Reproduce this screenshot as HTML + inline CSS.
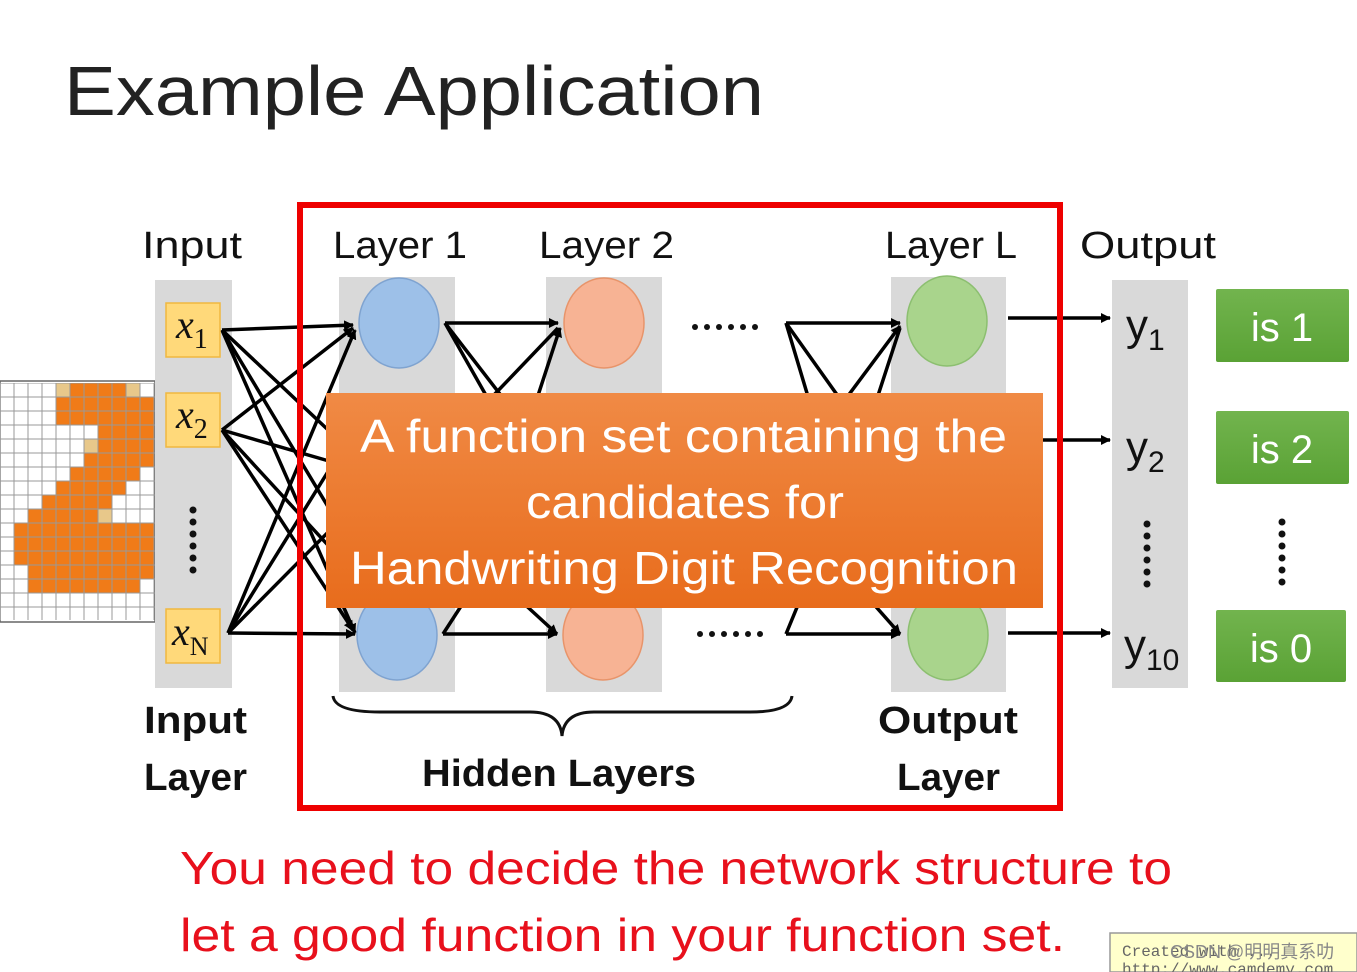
<!DOCTYPE html>
<html><head><meta charset="utf-8"><style>
html,body{margin:0;padding:0;background:#fff;}
svg{display:block;font-family:"Liberation Sans","DejaVu Sans",sans-serif;}
</style></head><body>
<svg width="1357" height="972" viewBox="0 0 1357 972" xmlns="http://www.w3.org/2000/svg">
<defs>
<pattern id="grid" x="0" y="383" width="14" height="14" patternUnits="userSpaceOnUse">
<rect width="14" height="14" fill="none" stroke="#999" stroke-width="1"/>
</pattern>
<linearGradient id="og" x1="0" y1="0" x2="0" y2="1">
<stop offset="0" stop-color="#f08a45"/><stop offset="1" stop-color="#e86c1c"/>
</linearGradient>
<linearGradient id="gg" x1="0" y1="0" x2="0" y2="1">
<stop offset="0" stop-color="#72b44e"/><stop offset="1" stop-color="#5aa235"/>
</linearGradient>
<marker id="ah" markerWidth="10" markerHeight="10" refX="9" refY="5" orient="auto" markerUnits="userSpaceOnUse">
<path d="M0,0 L10,5 L0,10 z" fill="#000"/>
</marker>
</defs>

<text x="64" y="115" font-size="70" fill="#222" textLength="700" lengthAdjust="spacingAndGlyphs">Example Application</text>

<!-- pixel grid -->
<rect x="0" y="381" width="155" height="241" fill="#fff" stroke="#666" stroke-width="1.5"/>
<g fill="#f07b18">
<rect x="56" y="383" width="84" height="14"/>
<rect x="56" y="397" width="98" height="28"/>
<rect x="98" y="425" width="56" height="14"/>
<rect x="98" y="439" width="56" height="14"/>
<rect x="84" y="453" width="70" height="14"/>
<rect x="70" y="467" width="70" height="14"/>
<rect x="56" y="481" width="70" height="14"/>
<rect x="42" y="495" width="70" height="14"/>
<rect x="28" y="509" width="70" height="14"/>
<rect x="14" y="523" width="140" height="42"/>
<rect x="28" y="565" width="126" height="14"/>
<rect x="28" y="579" width="112" height="14"/>
</g>
<g fill="#e8c88a">
<rect x="56" y="383" width="14" height="14"/>
<rect x="126" y="383" width="14" height="14"/>
<rect x="84" y="439" width="14" height="14"/>
<rect x="98" y="509" width="14" height="14"/>
</g>
<rect x="0" y="383" width="155" height="237" fill="url(#grid)"/>

<!-- gray columns -->
<g fill="#d9d9d9">
<rect x="155" y="280" width="77" height="408"/>
<rect x="339" y="277" width="116" height="415"/>
<rect x="546" y="277" width="116" height="415"/>
<rect x="891" y="277" width="115" height="415"/>
<rect x="1112" y="280" width="76" height="408"/>
</g>

<!-- connections -->
<g stroke="#000" stroke-width="3.5" fill="none">
<line x1="222" y1="330" x2="353" y2="325" marker-end="url(#ah)"/>
<line x1="222" y1="330" x2="355" y2="633" marker-end="url(#ah)"/>
<line x1="222" y1="330" x2="360" y2="460"/>
<line x1="222" y1="330" x2="360" y2="560"/>
<line x1="222" y1="430" x2="353" y2="328" marker-end="url(#ah)"/>
<line x1="222" y1="430" x2="353" y2="630" marker-end="url(#ah)"/>
<line x1="222" y1="430" x2="360" y2="470"/>
<line x1="222" y1="430" x2="360" y2="580"/>
<line x1="228" y1="633" x2="355" y2="634" marker-end="url(#ah)"/>
<line x1="228" y1="633" x2="355" y2="330" marker-end="url(#ah)"/>
<line x1="228" y1="633" x2="360" y2="420"/>
<line x1="228" y1="633" x2="360" y2="500"/>
<line x1="445" y1="323" x2="558" y2="323" marker-end="url(#ah)"/>
<line x1="445" y1="323" x2="520" y2="420"/>
<line x1="445" y1="323" x2="500" y2="420"/>
<line x1="530" y1="420" x2="560" y2="328" marker-end="url(#ah)"/>
<line x1="470" y1="420" x2="558" y2="328"/>
<line x1="443" y1="634" x2="557" y2="634" marker-end="url(#ah)"/>
<line x1="443" y1="634" x2="465" y2="600"/>
<line x1="520" y1="600" x2="557" y2="634" marker-end="url(#ah)"/>
<line x1="786" y1="323" x2="900" y2="323" marker-end="url(#ah)"/>
<line x1="786" y1="323" x2="815" y2="420"/>
<line x1="786" y1="323" x2="855" y2="420"/>
<line x1="830" y1="420" x2="900" y2="326" marker-end="url(#ah)"/>
<line x1="870" y1="420" x2="900" y2="328"/>
<line x1="786" y1="634" x2="900" y2="634" marker-end="url(#ah)"/>
<line x1="786" y1="634" x2="800" y2="600"/>
<line x1="870" y1="600" x2="900" y2="634" marker-end="url(#ah)"/>
<line x1="1008" y1="318" x2="1110" y2="318" marker-end="url(#ah)"/>
<line x1="1040" y1="440" x2="1110" y2="440" marker-end="url(#ah)"/>
<line x1="1008" y1="633" x2="1110" y2="633" marker-end="url(#ah)"/>
</g>

<!-- x boxes -->
<g fill="#ffd97a" stroke="#f0b840" stroke-width="1.5">
<rect x="166" y="303" width="54" height="54"/>
<rect x="166" y="393" width="54" height="54"/>
<rect x="166" y="609" width="54" height="54"/>
</g>
<g style="font-family:'Liberation Serif',serif" font-style="italic" font-size="40" fill="#111">
<text x="176" y="338">x<tspan font-style="normal" font-size="28" dy="10">1</tspan></text>
<text x="176" y="428">x<tspan font-style="normal" font-size="28" dy="10">2</tspan></text>
<text x="172" y="645">x<tspan font-style="normal" font-size="26" dy="10">N</tspan></text>
</g>
<g fill="#111">
<circle cx="193" cy="510" r="3.5"/><circle cx="193" cy="522" r="3.5"/><circle cx="193" cy="534" r="3.5"/><circle cx="193" cy="546" r="3.5"/><circle cx="193" cy="558" r="3.5"/><circle cx="193" cy="570" r="3.5"/>
</g>

<!-- nodes -->
<ellipse cx="399" cy="323" rx="40" ry="45" fill="#9dc0e8" stroke="#7fa3d0" stroke-width="1.5"/>
<ellipse cx="397" cy="635" rx="40" ry="45" fill="#9dc0e8" stroke="#7fa3d0" stroke-width="1.5"/>
<ellipse cx="604" cy="323" rx="40" ry="45" fill="#f7b394" stroke="#e8946a" stroke-width="1.5"/>
<ellipse cx="603" cy="635" rx="40" ry="45" fill="#f7b394" stroke="#e8946a" stroke-width="1.5"/>
<ellipse cx="947" cy="321" rx="40" ry="45" fill="#a9d48c" stroke="#8cbf70" stroke-width="1.5"/>
<ellipse cx="948" cy="635" rx="40" ry="45" fill="#a9d48c" stroke="#8cbf70" stroke-width="1.5"/>
<g fill="#111">
<circle cx="695" cy="327" r="3"/><circle cx="707" cy="327" r="3"/><circle cx="719" cy="327" r="3"/><circle cx="731" cy="327" r="3"/><circle cx="743" cy="327" r="3"/><circle cx="755" cy="327" r="3"/>
<circle cx="700" cy="634" r="3"/><circle cx="712" cy="634" r="3"/><circle cx="724" cy="634" r="3"/><circle cx="736" cy="634" r="3"/><circle cx="748" cy="634" r="3"/><circle cx="760" cy="634" r="3"/>
</g>

<!-- y labels -->
<g font-size="44" fill="#111">
<text x="1126" y="340">y<tspan font-size="30" dy="10">1</tspan></text>
<text x="1126" y="462">y<tspan font-size="30" dy="10">2</tspan></text>
<text x="1124" y="660">y<tspan font-size="30" dy="10">10</tspan></text>
</g>
<g fill="#111">
<circle cx="1147" cy="524" r="3.5"/><circle cx="1147" cy="536" r="3.5"/><circle cx="1147" cy="548" r="3.5"/><circle cx="1147" cy="560" r="3.5"/><circle cx="1147" cy="572" r="3.5"/><circle cx="1147" cy="584" r="3.5"/>
<circle cx="1282" cy="522" r="3.5"/><circle cx="1282" cy="534" r="3.5"/><circle cx="1282" cy="546" r="3.5"/><circle cx="1282" cy="558" r="3.5"/><circle cx="1282" cy="570" r="3.5"/><circle cx="1282" cy="582" r="3.5"/>
</g>
<g fill="url(#gg)">
<rect x="1216" y="289" width="133" height="73" rx="2"/>
<rect x="1216" y="411" width="133" height="73" rx="2"/>
<rect x="1216" y="610" width="130" height="72" rx="2"/>
</g>
<g font-size="40" fill="#fff" text-anchor="middle">
<text x="1282" y="341">is 1</text>
<text x="1282" y="463">is 2</text>
<text x="1281" y="662">is 0</text>
</g>

<!-- orange box -->
<rect x="326" y="393" width="717" height="215" fill="url(#og)"/>
<g font-size="46" fill="#fff">
<text x="360" y="452" textLength="647" lengthAdjust="spacingAndGlyphs">A function set containing the</text>
<text x="526" y="518" textLength="318" lengthAdjust="spacingAndGlyphs">candidates for</text>
<text x="350" y="584" textLength="668" lengthAdjust="spacingAndGlyphs">Handwriting Digit Recognition</text>
</g>

<!-- red frame -->
<rect x="300" y="205" width="760" height="603" fill="none" stroke="#ee0000" stroke-width="6"/>

<!-- top labels -->
<g font-size="38" fill="#111">
<text x="142" y="258" textLength="100" lengthAdjust="spacingAndGlyphs">Input</text>
<text x="333" y="258" textLength="134" lengthAdjust="spacingAndGlyphs">Layer 1</text>
<text x="539" y="258" textLength="135" lengthAdjust="spacingAndGlyphs">Layer 2</text>
<text x="885" y="258" textLength="132" lengthAdjust="spacingAndGlyphs">Layer L</text>
<text x="1080" y="258" textLength="136" lengthAdjust="spacingAndGlyphs">Output</text>
</g>
<g font-size="38" font-weight="bold" fill="#111">
<text x="144" y="733" textLength="103" lengthAdjust="spacingAndGlyphs">Input</text>
<text x="144" y="790" textLength="103" lengthAdjust="spacingAndGlyphs">Layer</text>
<text x="422" y="786" textLength="274" lengthAdjust="spacingAndGlyphs">Hidden Layers</text>
<text x="878" y="733" textLength="140" lengthAdjust="spacingAndGlyphs">Output</text>
<text x="897" y="790" textLength="103" lengthAdjust="spacingAndGlyphs">Layer</text>
</g>
<path d="M333,696 Q335,712 380,712 L530,712 Q560,712 562,736 Q564,712 594,712 L750,712 Q790,712 792,696" fill="none" stroke="#111" stroke-width="3"/>

<!-- bottom text -->
<g font-size="46" fill="#e8101c">
<text x="180" y="884" textLength="992" lengthAdjust="spacingAndGlyphs">You need to decide the network structure to</text>
<text x="180" y="951" textLength="885" lengthAdjust="spacingAndGlyphs">let a good function in your function set.</text>
</g>

<!-- watermark -->
<rect x="1110" y="933" width="247" height="39" fill="#ffffcc" stroke="#999" stroke-width="1.5"/>
<text x="1122" y="956" font-size="16" fill="#666" style="font-family:'Liberation Mono',monospace">Created with ...</text>
<text x="1170" y="958" font-size="18" fill="#888" style="font-family:'Liberation Sans','Noto Sans CJK SC',sans-serif">CSDN @明明真系叻</text>
<text x="1122" y="974" font-size="16" fill="#666" style="font-family:'Liberation Mono',monospace">http://www.camdemy.com</text>
</svg>
</body></html>
